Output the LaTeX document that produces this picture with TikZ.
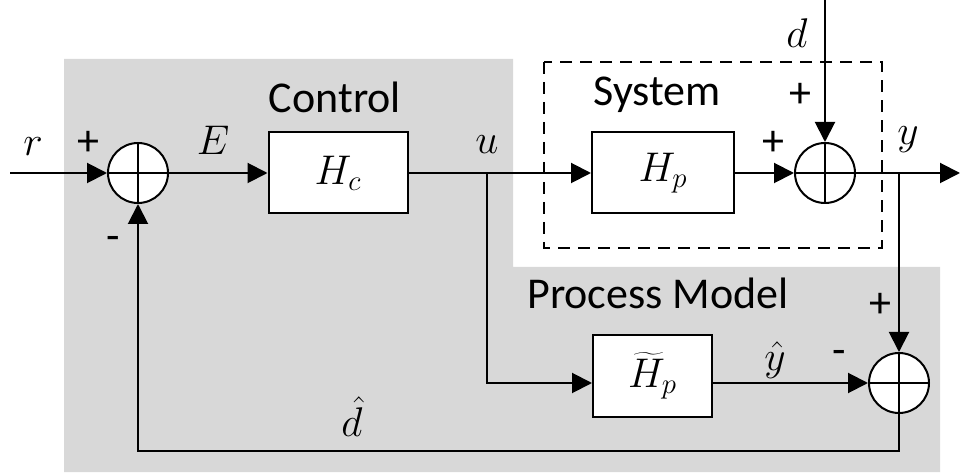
\documentclass[tikz,border=0pt]{standalone}
\usepackage{fontspec}
\setmainfont{Carlito}
\usetikzlibrary{arrows.meta}
\definecolor{bggray}{RGB}{216,216,216}
\begin{document}
\begin{tikzpicture}[x=0.5pt,y=0.5pt,
  font=\fontsize{22}{26}\selectfont,
  blk/.style={draw,line width=1pt,fill=white,inner sep=0pt,minimum height=40.5pt},
  sumc/.style={draw,circle,line width=1pt,fill=white,inner sep=0pt,minimum size=30pt,
    path picture={\draw[line width=1pt] (path picture bounding box.north) -- (path picture bounding box.south)
      (path picture bounding box.west) -- (path picture bounding box.east);}},
  arr/.style={line width=1pt,-{Triangle[length=10pt,width=10pt]}},
  ln/.style={line width=1pt},
  lbl/.style={inner sep=0pt}]
\useasboundingbox (0,0) rectangle (960,472);
\fill[bggray] (64,413) -- (513,413) -- (513,205) -- (940,205) -- (940,0) -- (64,0) -- cycle;
\draw[line width=1pt,dash pattern=on 6pt off 4pt] (544,410) rectangle (882,224);
% blocks
\node[sumc] (s1) at (138,299) {};
\node[blk,minimum width=69.5pt] (hc) at (338,299) {$H_c$};
\node[blk,minimum width=71pt] (hp) at (663,299) {$H_p$};
\node[sumc] (s2) at (825,299) {};
\node[blk,minimum width=59.5pt,minimum height=41pt] (hpt) at (652.5,96) {$\widetilde{H}_p$};
\node[sumc] (s3) at (899,89) {};
% coordinates
\coordinate (rin) at (10,299);
\coordinate (yout) at (960,299);
\coordinate (dtop) at (825,472);
\coordinate (ub) at (487,299);
\coordinate (yb) at (899,299);
\coordinate (fb) at (138,21);
% connectors
\draw[arr] (rin) -- (s1.west);
\draw[arr] (s1.east) -- (hc.west);
\draw[arr] (hc.east) -- (hp.west);
\draw[arr] (hp.east) -- (s2.west);
\draw[arr] (dtop) -- (s2.north);
\draw[arr] (s2.east) -- (yout);
\draw[arr] (yb) -- (s3.north);
\draw[arr] (ub) |- (hpt.west |- s3);
\draw[arr] (hpt.east |- s3) -- (s3.west);
\draw[arr] (s3.south) |- (fb) -- (s1.south);
% labels
\node[lbl] (lr) at (33,325) {$r$};
\node[lbl] (p1) at (88,329) {+};
\node[lbl] (m1) at (113,229) {-};
\node[lbl] (lE) at (213,332) {$E$};
\node[lbl] (lctl) at (335,375) {Control};
\node[lbl] (lu) at (487,327) {$u$};
\node[lbl] (lsys) at (657,377) {System};
\node[lbl] (ld) at (797,439) {$d$};
\node[lbl] (p2) at (800,377) {+};
\node[lbl] (p3) at (773,329) {+};
\node[lbl] (ly) at (908,332) {$y$};
\node[lbl] (lpm) at (658,179) {Process Model};
\node[lbl] (p4) at (880,167) {+};
\node[lbl] (m2) at (839,115) {-};
\node[lbl] (lyh) at (775,112) {$\hat{y}$};
\node[lbl] (ldh) at (352,55) {$\hat{d}$};
\end{tikzpicture}
\end{document}
